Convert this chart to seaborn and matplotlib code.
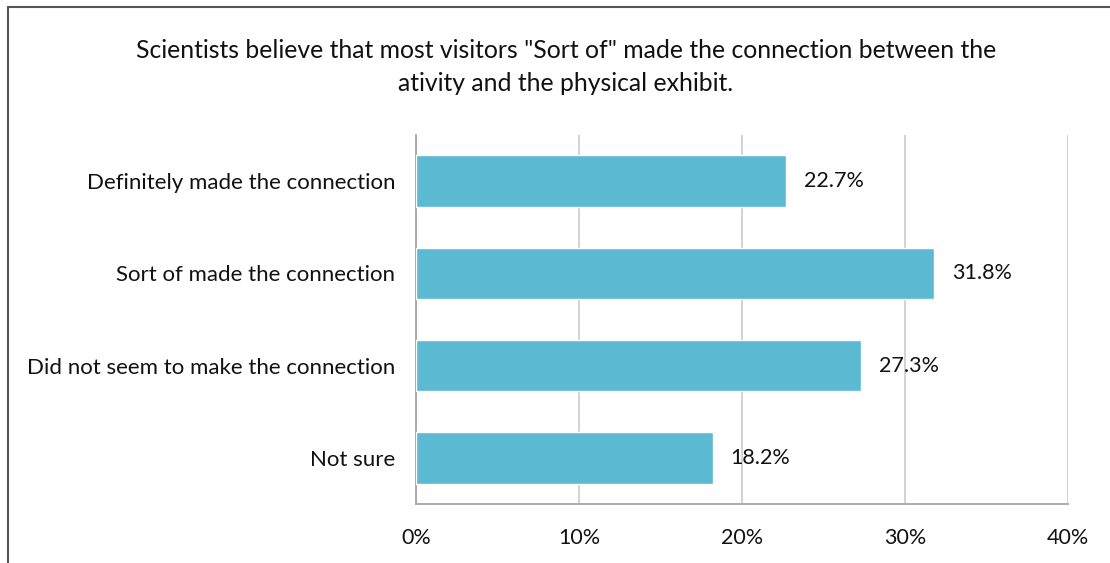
import matplotlib
matplotlib.use("Agg")
import matplotlib.pyplot as plt
import seaborn as sns
import pandas as pd

categories = ["Definitely made the connection", "Sort of made the connection",
              "Did not seem to make the connection", "Not sure"]
values = [22.7, 31.8, 27.3, 18.2]
tick_values = [0, 10, 20, 30, 40]
tick_labels = ["0%", "10%", "20%", "30%", "40%"]
title = 'Scientists believe that most visitors "Sort of" made the connection between the\nativity and the physical exhibit.'

sns.set_theme(style="white")
plt.rcParams['font.family'] = ['Lato', 'DejaVu Sans']

df = pd.DataFrame({"cat": categories, "val": values})

fig = plt.figure(figsize=(11.1, 5.63), dpi=100)
ax = fig.add_axes([416 / 1110, 1 - 504 / 563, (1068 - 416) / 1110, (504 - 135) / 563])

sns.barplot(data=df, x="val", y="cat", color="#5BB9D1", saturation=1, width=0.56, ax=ax, zorder=3)

ax.set_xlim(0, 40)
ax.set_ylim(3.5, -0.5)
ax.set_xticks(tick_values)
ax.set_xticklabels(tick_labels, fontsize=15.5, color="#111111")
ax.tick_params(axis="x", length=0, pad=17)
ax.tick_params(axis="y", length=0, pad=15)
for lbl in ax.get_yticklabels():
    lbl.set_fontsize(16)
    lbl.set_color("#111111")
ax.set_xlabel("")
ax.set_ylabel("")
ax.grid(axis="x", color="#D0D0D0", linewidth=1.3, zorder=0)
ax.set_axisbelow(True)
for s in ["top", "right"]:
    ax.spines[s].set_visible(False)
ax.spines["left"].set_color("#A6A6A6")
ax.spines["bottom"].set_color("#A6A6A6")
ax.spines["left"].set_linewidth(1.3)
ax.spines["bottom"].set_linewidth(1.3)

for i, v in enumerate(values):
    ax.text(v + 1.1, i, f"{v:.1f}%", va="center", ha="left", fontsize=15.5, color="#111111")

fig.text(566 / 1110, 1 - 67 / 563, title, ha="center", va="center", fontsize=17.8,
         color="#111111", linespacing=1.5)

# figure border (left & top visible)
fig.add_artist(plt.Line2D([8 / 1110, 8 / 1110], [0, 1 - 7 / 563], transform=fig.transFigure,
                          color="#555555", linewidth=1.5))
fig.add_artist(plt.Line2D([8 / 1110, 1], [1 - 7 / 563, 1 - 7 / 563], transform=fig.transFigure,
                          color="#555555", linewidth=1.5))

fig.savefig("out.png", dpi=100, facecolor="white")
